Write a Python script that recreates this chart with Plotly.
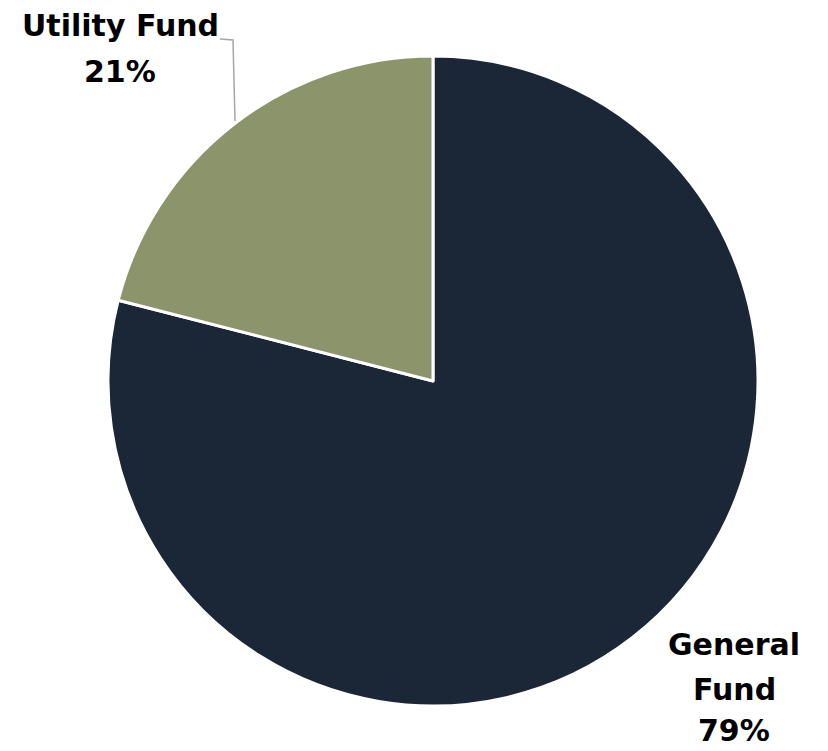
import plotly.graph_objects as go

# Fund shares (percent)
funds = ["General Fund", "Utility Fund"]
shares = [79, 21]
colors = ["#1b2637", "#8c946c"]

W, H = 828, 751

fig = go.Figure(
    go.Pie(
        labels=funds,
        values=shares,
        sort=False,
        direction="clockwise",
        rotation=0,
        marker=dict(colors=colors, line=dict(color="#ffffff", width=3)),
        textinfo="none",
        hoverinfo="label+percent",
        showlegend=False,
        domain=dict(x=[108 / W, 758 / W], y=[45 / H, 695 / H]),
    )
)

label_font = dict(family="'DejaVu Sans', sans-serif", size=30, color="#000000")


def add_label(lines, cx, cy_list):
    # one annotation per line so the line spacing can be set freely
    for txt, cy in zip(lines, cy_list):
        fig.add_annotation(
            text=f"<b>{txt}</b>",
            x=cx / W, y=1 - cy / H, xref="paper", yref="paper",
            showarrow=False, align="center", font=label_font,
            xanchor="center", yanchor="middle",
        )


add_label(["Utility Fund", f"{shares[1]}%"], 120, [26, 71])
add_label(["General", "Fund", f"{shares[0]}%"], 734, [644, 689, 730])

# leader line from the Utility Fund slice to its label
fig.add_shape(
    type="path",
    path=f"M {235 / W} {1 - 121 / H} L {233 / W} {1 - 40 / H} L {220 / W} {1 - 39 / H}",
    xref="paper", yref="paper",
    line=dict(color="#a6a6a6", width=1.5),
)

fig.update_layout(
    width=W, height=H,
    margin=dict(l=0, r=0, t=0, b=0),
    paper_bgcolor="#ffffff",
    plot_bgcolor="#ffffff",
)

fig.write_html("out.html")
